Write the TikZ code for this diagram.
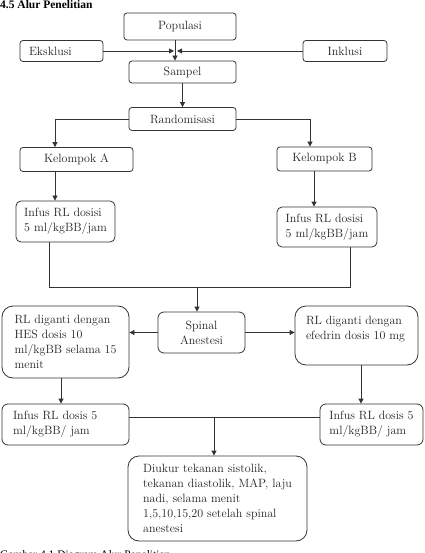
\documentclass[tikz,border=0pt]{standalone}
\usepackage{fontspec}
\newfontfamily\timesfont{Liberation Serif}
\usetikzlibrary{arrows.meta, positioning, calc}
\definecolor{linegray}{RGB}{51, 51, 51}
\definecolor{textgray}{RGB}{34, 34, 34}
\newcommand{\boxfont}{\fontsize{12}{15}\selectfont}
\newcommand{\headfont}{\timesfont\fontsize{11.5}{13}\selectfont}

\begin{document}
\begin{tikzpicture}[x=1pt, y=-1pt,
  box/.style={draw=linegray, line width=0.8pt, rounded corners=3pt, inner sep=0pt, font=\boxfont, text=textgray, align=center},
  textbox/.style={box, align=left},
  bigbox/.style={textbox, rounded corners=11pt},
  arr/.style={draw=linegray, line width=0.8pt, -{Triangle[length=5pt, width=5pt]}},
  conn/.style={draw=linegray, line width=0.8pt}]
  \useasboundingbox (0,0) rectangle (424,553);
  \clip (0,0) rectangle (424,553);

  \node[font=\headfont\bfseries, anchor=base west, inner sep=0pt] (title) at (0,9) {4.5 Alur Penelitian};

  % Top part
  \node[box, minimum width=112pt, minimum height=27pt] (pop) at (180,26.5) {Populasi};
  \node[textbox, text width=65pt, inner xsep=9pt, minimum height=21pt] (eks) at (61.5,51) {Eksklusi};
  \node[box, minimum width=84pt, minimum height=21pt] (ink) at (345,51) {Inklusi};
  \node[box, minimum width=107pt, minimum height=22pt] (samp) at (182.5,72) {Sampel};
  \node[box, minimum width=107pt, minimum height=23pt] (rand) at (182.5,119) {Randomisasi};

  % Groups
  \node[box, minimum width=113pt, minimum height=24pt] (kela) at (76.5,159.5) {Kelompok A};
  \node[box, minimum width=95pt, minimum height=24pt] (kelb) at (324.5,159) {Kelompok B};
  \node[textbox, rounded corners=5pt, minimum width=99pt, minimum height=41pt] (infa) at (65.5,221.5) {Infus RL dosisi\\5 ml/kgBB/jam};
  \node[textbox, rounded corners=5pt, minimum width=100pt, minimum height=40pt] (infb) at (327,227) {Infus RL dosisi\\5 ml/kgBB/jam};

  % Anesthesia and treatment
  \node[box, rounded corners=6pt, minimum width=87pt, minimum height=41pt] (spin) at (201.5,332.5) {Spinal\\Anestesi};
  \node[bigbox, minimum width=127pt, minimum height=72pt] (hes) at (65.5,342) {RL diganti dengan\\HES dosis 10\\ml/kgBB selama 15\\menit};
  \node[bigbox, inner xsep=11pt, inner ysep=10pt] (efe) at (356.5,335.5) {\parbox[c][39pt][t]{101pt}{RL diganti dengan\\efedrin dosis 10 mg}};
  \node[textbox, rounded corners=6pt, text width=105pt, inner xsep=11pt, minimum height=41pt] (infl) at (65.5,424.5) {Infus RL dosis 5\\ml/kgBB/ jam};
  \node[textbox, rounded corners=6pt, minimum width=103pt, minimum height=41pt] (infr) at (371.5,424.5) {Infus RL dosis 5\\ml/kgBB/ jam};

  % Measurement
  \node[bigbox, minimum width=179pt, minimum height=85pt] (diuk) at (217.5,498.5) {Diukur tekanan sistolik,\\tekanan diastolik, MAP, laju\\nadi, selama menit\\1,5,10,15,20 setelah spinal\\anestesi};

  \node[font=\headfont, anchor=base west, inner sep=0pt] (cap) at (0,558) {Gambar 4.1 Diagram Alur Penelitian};

  % Connectors
  \coordinate (jtop) at (175,51);
  \draw[arr] (pop.south -| jtop) -- (jtop |- samp.north);
  \draw[arr] (eks.east) -- ([xshift=-1pt]jtop);
  \draw[arr] (ink.west) -- ([xshift=2pt]jtop);
  \draw[arr] (samp.south) -- (rand.north);

  \coordinate (ra) at (55,119);
  \coordinate (rb) at (310,119);
  \draw[arr] (rand.west) -- (ra) -- (ra |- kela.north);
  \draw[arr] (rand.east) -- (rb) -- (rb |- kelb.north);
  \draw[arr] (kela.south -| ra) -- (ra |- infa.north);
  \coordinate (kb) at (314,180);
  \draw[arr] (kelb.south -| kb) -- (kb |- infb.north);

  \coordinate (ja) at (49,287);
  \coordinate (jb) at (350,287);
  \coordinate (js) at (197,287);
  \draw[conn] (infa.south -| ja) -- (ja) -- (jb) -- (jb |- infb.south);
  \draw[arr] (js) -- (js |- spin.north);
  \draw[arr] (spin.west) -- (spin.west -| hes.east);
  \draw[arr] (spin.east) -- (spin.east -| efe.west);

  \coordinate (hl) at (61,390);
  \coordinate (er) at (361,390);
  \draw[arr] (hes.south -| hl) -- (hl |- infl.north);
  \draw[arr] (efe.south -| er) -- (er |- infr.north);

  \coordinate (jl) at (214,417);
  \draw[conn] (infl.east |- jl) -- (infr.west |- jl);
  \draw[arr] (jl) -- (jl |- diuk.north);
\end{tikzpicture}
\end{document}
